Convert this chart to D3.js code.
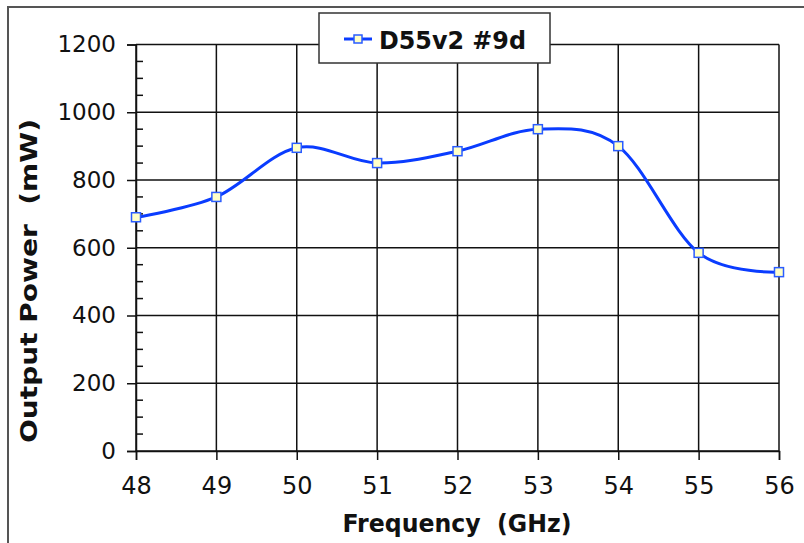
<!DOCTYPE html>
<html>
<head>
<meta charset="utf-8">
<script src="https://cdn.jsdelivr.net/npm/d3@7"></script>
<style>
  body { margin: 0; background: #fff; }
  svg { display: block; }
  text { white-space: pre; }
</style>
</head>
<body>
<div id="chart"></div>
<script>
// data
var freqs = [48, 49, 50, 51, 52, 53, 54, 55, 56];
var power = [690, 750, 895, 850, 885, 950, 900, 585, 528];
var seriesName = "D55v2 #9d";
var yTicks = [0, 200, 400, 600, 800, 1000, 1200];
var xLabel = "Frequency  (GHz)";
var yLabel = "Output Power  (mW)";

// settings for window
var w = 804, h = 543;
var padL = 136, padR = 779, padT = 44.5, padB = 451;
var font = "'DejaVu Sans', Verdana, sans-serif";

var svg = d3.select("#chart").append("svg").attr("width", w).attr("height", h);

// outer frame (only top and left edges are visible)
svg.append("rect").attr("x", 8).attr("y", 7).attr("width", 820).attr("height", 560)
  .attr("fill", "none").attr("stroke", "#555").attr("stroke-width", 2);

// scales
var xScale = d3.scaleLinear().domain([48, 56]).range([padL, padR]);
var yScale = d3.scaleLinear().domain([0, 1200]).range([padB, padT]);

// grid
svg.append("g").selectAll("line").data(yTicks).enter().append("line")
  .attr("x1", padL).attr("x2", padR)
  .attr("y1", function(d) { return yScale(d); }).attr("y2", function(d) { return yScale(d); })
  .attr("stroke", "#111").attr("stroke-width", 1.5);
svg.append("g").selectAll("line").data(freqs).enter().append("line")
  .attr("x1", function(d) { return xScale(d); }).attr("x2", function(d) { return xScale(d); })
  .attr("y1", padT).attr("y2", padB)
  .attr("stroke", "#111").attr("stroke-width", 1.5);

// y axis: major ticks outside, minor ticks inside
var yAxis = d3.axisLeft(yScale).tickValues(yTicks).tickSize(9).tickPadding(11).tickFormat(d3.format("d"));
var gy = svg.append("g").attr("transform", "translate(" + padL + ",0)").call(yAxis);
gy.select(".domain").attr("stroke", "#111").attr("stroke-width", 1.5);
gy.selectAll(".tick line").attr("stroke", "#111").attr("stroke-width", 1.5);
gy.selectAll(".tick text").style("font-family", font).style("font-size", "23px").attr("fill", "#111");

var minor = d3.range(50, 1200, 50).filter(function(d) { return d % 200 !== 0; });
svg.append("g").selectAll("line").data(minor).enter().append("line")
  .attr("x1", padL).attr("x2", padL + 7)
  .attr("y1", function(d) { return yScale(d); }).attr("y2", function(d) { return yScale(d); })
  .attr("stroke", "#111").attr("stroke-width", 1.5);

// x axis
var xAxis = d3.axisBottom(xScale).tickValues(freqs).tickSize(9).tickPadding(17).tickFormat(d3.format("d"));
var gx = svg.append("g").attr("transform", "translate(0," + padB + ")").call(xAxis);
gx.select(".domain").attr("stroke", "#111").attr("stroke-width", 1.5);
gx.selectAll(".tick line").attr("stroke", "#111").attr("stroke-width", 1.5);
gx.selectAll(".tick text").style("font-family", font).style("font-size", "24px").attr("fill", "#111");

// axis labels
svg.append("text").attr("x", 457).attr("y", 532).attr("text-anchor", "middle")
  .style("font-family", font).style("font-weight", "bold").style("font-size", "25px")
  .attr("textLength", 229).attr("lengthAdjust", "spacingAndGlyphs")
  .attr("fill", "#111").text(xLabel);
svg.append("text").attr("transform", "translate(37,281) rotate(-90)").attr("text-anchor", "middle")
  .style("font-family", font).style("font-weight", "bold").style("font-size", "23px")
  .attr("textLength", 324).attr("lengthAdjust", "spacingAndGlyphs")
  .attr("fill", "#111").text(yLabel);

// smooth line and markers
var line = d3.line()
  .x(function(d, i) { return xScale(freqs[i]); })
  .y(function(d) { return yScale(d); })
  .curve(d3.curveCardinal.tension(0));
svg.append("path").datum(power).attr("d", line)
  .attr("fill", "none").attr("stroke", "#0a3cff").attr("stroke-width", 3);
svg.append("g").selectAll("rect").data(power).enter().append("rect")
  .attr("x", function(d, i) { return xScale(freqs[i]) - 4.5; })
  .attr("y", function(d) { return yScale(d) - 4.5; })
  .attr("width", 9).attr("height", 9)
  .attr("fill", "#ffffc8").attr("stroke", "#2a5cff").attr("stroke-width", 1.5);

// legend
var lg = svg.append("g");
lg.append("rect").attr("x", 319).attr("y", 13).attr("width", 231).attr("height", 50)
  .attr("fill", "#fff").attr("stroke", "#333").attr("stroke-width", 1.5);
lg.append("line").attr("x1", 344).attr("x2", 372).attr("y1", 39).attr("y2", 39)
  .attr("stroke", "#0a3cff").attr("stroke-width", 3);
lg.append("rect").attr("x", 354).attr("y", 35).attr("width", 8).attr("height", 8)
  .attr("fill", "#ffffc8").attr("stroke", "#2a5cff").attr("stroke-width", 1.5);
lg.append("text").attr("x", 379).attr("y", 49)
  .style("font-family", font).style("font-weight", "bold").style("font-size", "25px")
  .attr("textLength", 147).attr("lengthAdjust", "spacingAndGlyphs")
  .attr("fill", "#111").text(seriesName);
</script>
</body>
</html>
